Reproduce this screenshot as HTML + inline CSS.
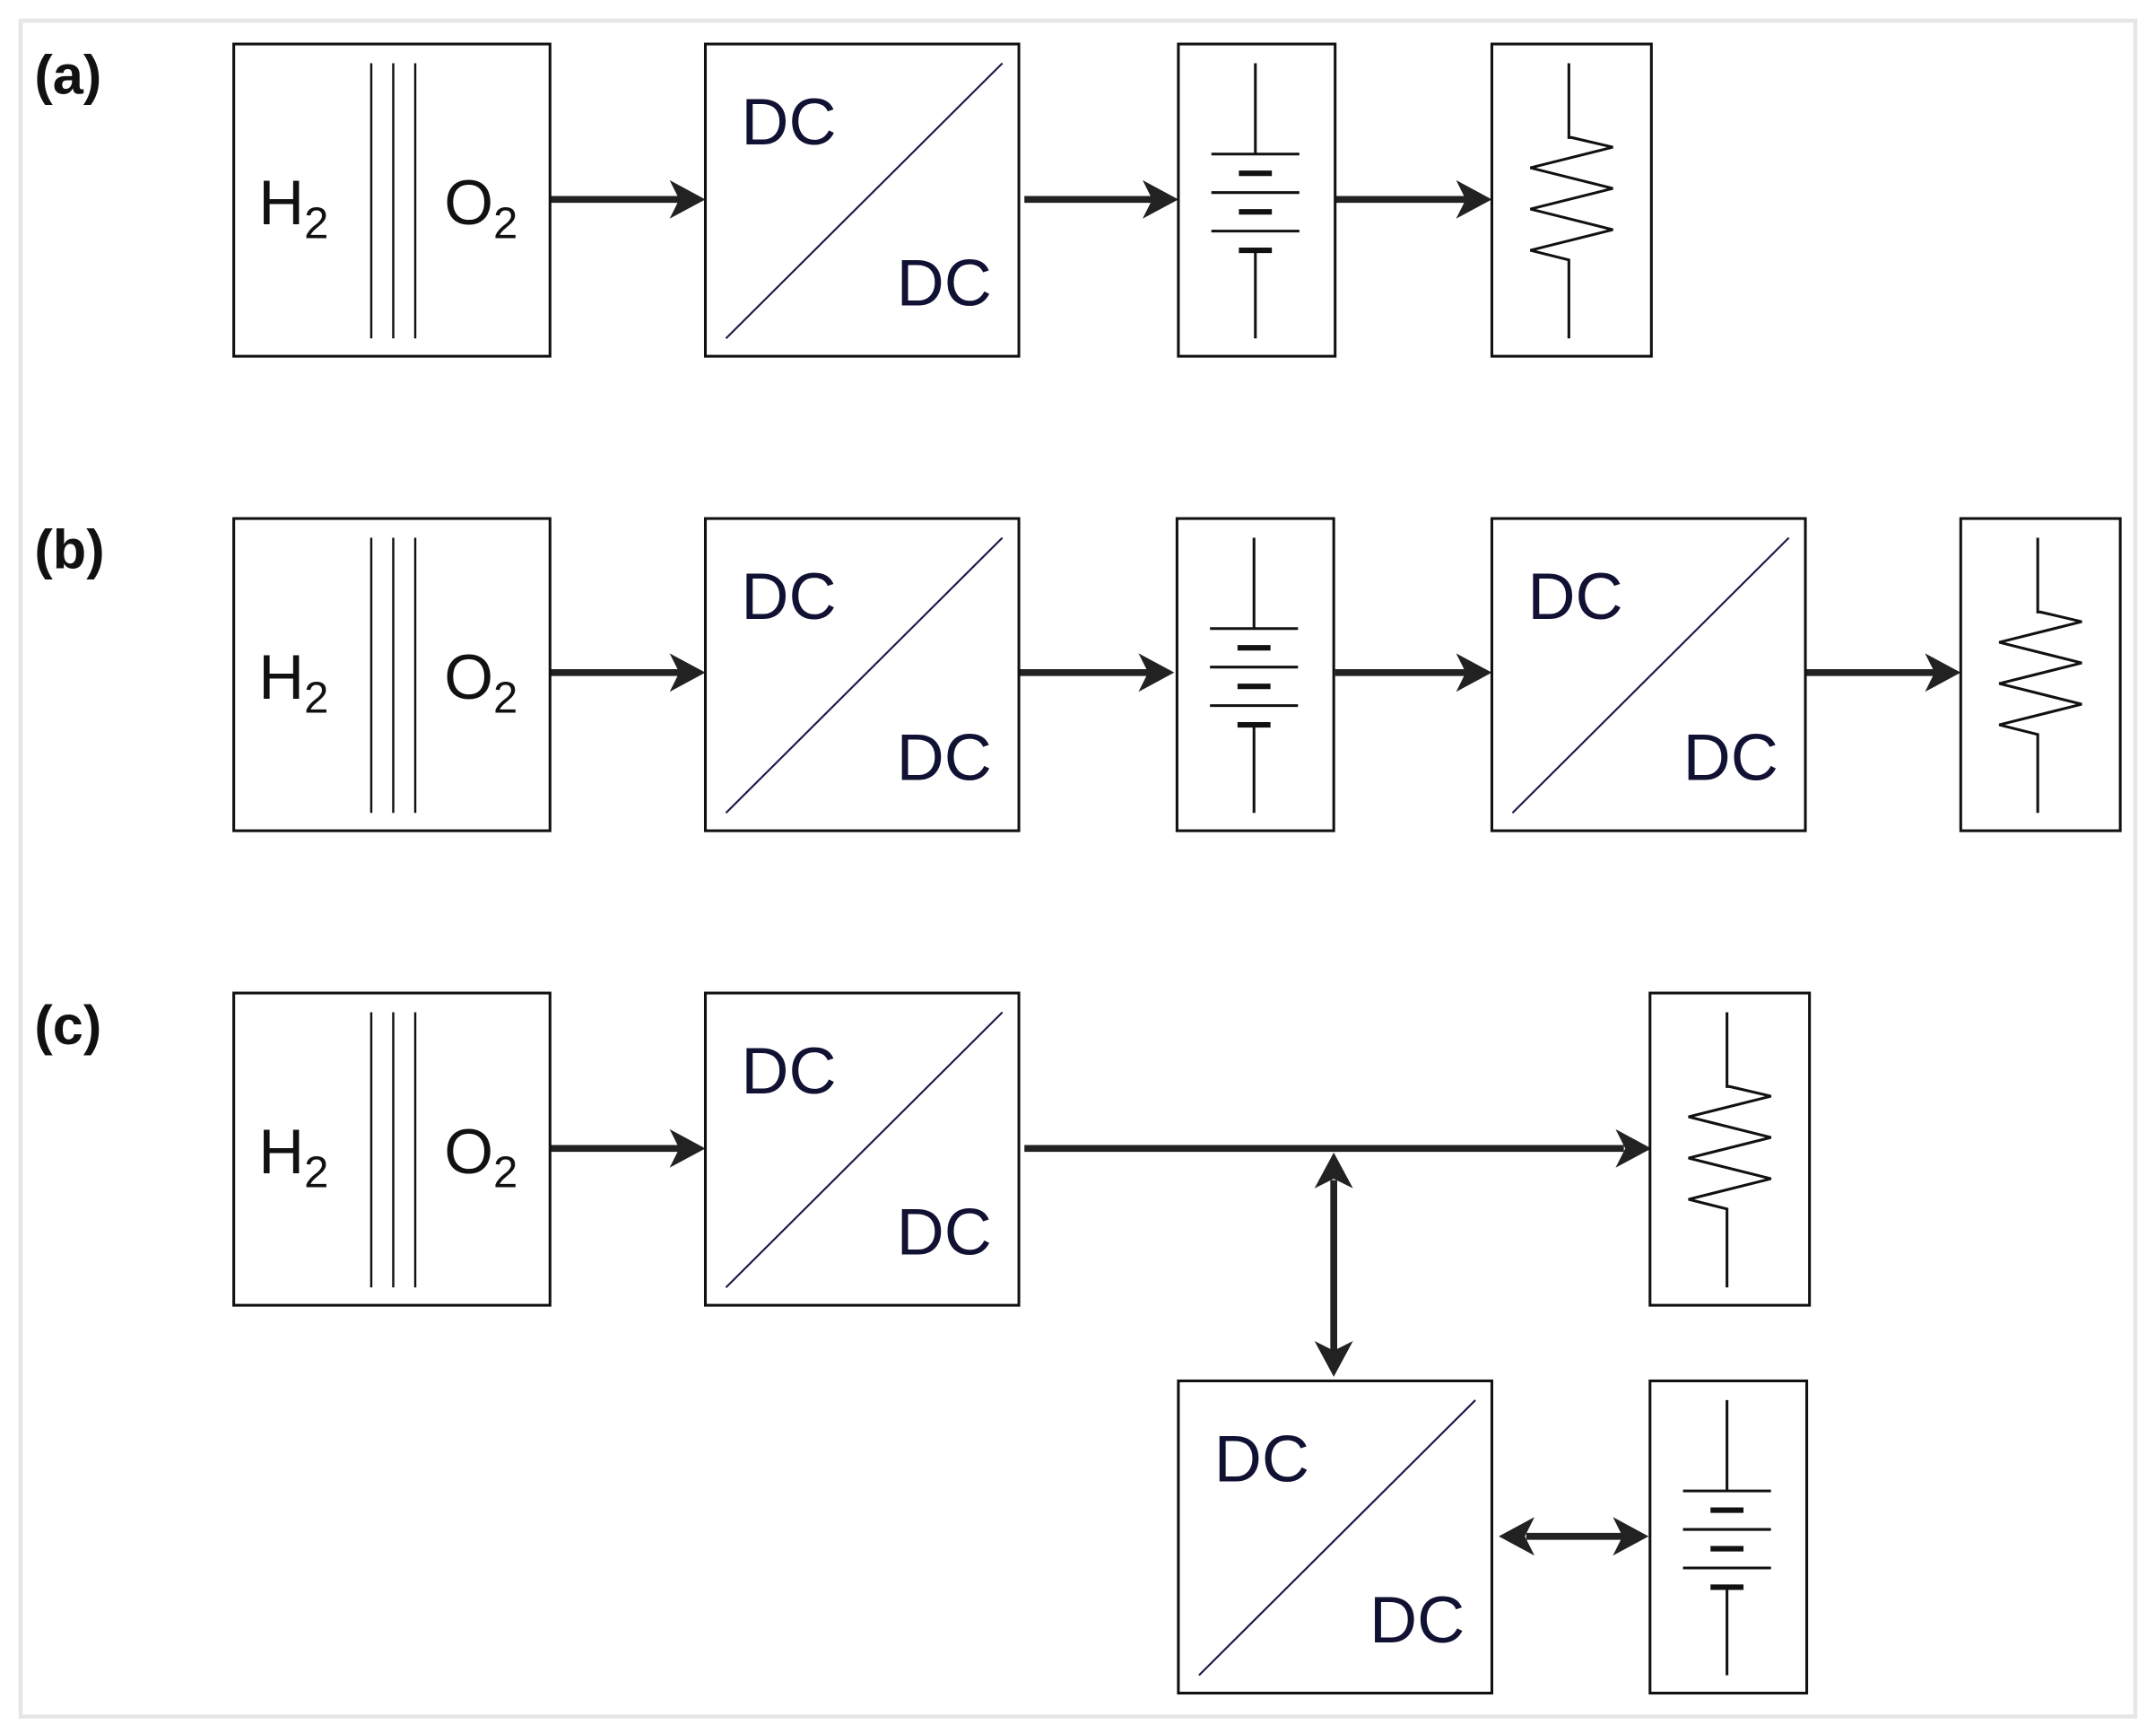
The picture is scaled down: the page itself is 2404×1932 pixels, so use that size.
<!DOCTYPE html>
<html><head><meta charset="utf-8"><style>
html,body{margin:0;padding:0;background:#fff;width:2404px;height:1932px;overflow:hidden}
svg{display:block}
text{font-family:"Liberation Sans",Arial,sans-serif}
</style></head><body>
<svg width="2404" height="1932" viewBox="0 0 1568 1260" preserveAspectRatio="none" xmlns="http://www.w3.org/2000/svg">
<defs>
<g id="fc">
 <rect x="0" y="0" width="230" height="227" fill="#fff" stroke="#111" stroke-width="2"/>
 <line x1="100" y1="14" x2="100" y2="214" stroke="#111" stroke-width="1.6"/>
 <line x1="116" y1="14" x2="116" y2="214" stroke="#111" stroke-width="1.6"/>
 <line x1="132" y1="14" x2="132" y2="214" stroke="#111" stroke-width="1.6"/>
 <text x="18" y="131" font-size="46" fill="#111">H<tspan font-size="32" dy="10">2</tspan></text>
 <text x="153" y="131" font-size="46" fill="#111">O<tspan font-size="32" dy="10">2</tspan></text>
</g>
<g id="dc">
 <rect x="0" y="0" width="228" height="227" fill="#fff" stroke="#111" stroke-width="2"/>
 <line x1="15" y1="214" x2="216" y2="14" stroke="#1a1a4a" stroke-width="1.4"/>
 <text x="26" y="73" font-size="48" fill="#111133">DC</text>
 <text x="139" y="190" font-size="48" fill="#111133">DC</text>
</g>
<g id="bat">
 <rect x="0" y="0" width="114" height="227" fill="#fff" stroke="#111" stroke-width="2"/>
 <g stroke="#111">
 <line x1="56" y1="14" x2="56" y2="80" stroke-width="2"/>
 <line x1="24" y1="80" x2="88" y2="80" stroke-width="2"/>
 <line x1="44" y1="94" x2="68" y2="94" stroke-width="4"/>
 <line x1="24" y1="108" x2="88" y2="108" stroke-width="2"/>
 <line x1="44" y1="122" x2="68" y2="122" stroke-width="4"/>
 <line x1="24" y1="136" x2="88" y2="136" stroke-width="2"/>
 <line x1="44" y1="150" x2="68" y2="150" stroke-width="4"/>
 <line x1="56" y1="150" x2="56" y2="214" stroke-width="2"/>
 </g>
</g>
<g id="res">
 <rect x="0" y="0" width="116" height="227" fill="#fff" stroke="#111" stroke-width="2"/>
 <polyline fill="none" stroke="#111" stroke-width="2" points="56,14 56,68 58,68 88,75 28,90 88,105 28,120 88,135 28,150 56,157 56,214"/>
</g>
<path id="ah" d="M0,0 L-26,-14 L-19,0 L-26,14 Z" fill="#222"/>
</defs>
<rect x="15" y="15" width="1538" height="1233" fill="#fff" stroke="#e6e6e6" stroke-width="3"/>
<g font-weight="bold" font-size="40" fill="#111">
<text x="25" y="68">(a)</text>
<text x="25" y="413">(b)</text>
<text x="25" y="759">(c)</text>
</g>
<g stroke="#222" stroke-width="5">
<line x1="400" y1="145" x2="496" y2="145"/><line x1="745" y1="145" x2="840" y2="145"/><line x1="971" y1="145" x2="1068" y2="145"/>
<line x1="400" y1="489" x2="496" y2="489"/><line x1="741" y1="489" x2="837" y2="489"/><line x1="971" y1="489" x2="1068" y2="489"/><line x1="1312" y1="489" x2="1409" y2="489"/>
<line x1="400" y1="835" x2="496" y2="835"/><line x1="745" y1="835" x2="1181" y2="835"/>
<line x1="970" y1="858" x2="970" y2="983"/><line x1="1110" y1="1117" x2="1181" y2="1117"/>
</g>
<use href="#ah" transform="translate(513,145)"/><use href="#ah" transform="translate(857,145)"/><use href="#ah" transform="translate(1085,145)"/>
<use href="#ah" transform="translate(513,489)"/><use href="#ah" transform="translate(854,489)"/><use href="#ah" transform="translate(1085,489)"/><use href="#ah" transform="translate(1426,489)"/>
<use href="#ah" transform="translate(513,835)"/><use href="#ah" transform="translate(1201,835)"/>
<use href="#ah" transform="translate(970,838) rotate(-90)"/><use href="#ah" transform="translate(970,1001) rotate(90)"/>
<use href="#ah" transform="translate(1090,1117) rotate(180)"/><use href="#ah" transform="translate(1199,1117)"/>
<use href="#fc" transform="translate(170,32)"/><use href="#dc" transform="translate(513,32)"/><use href="#bat" transform="translate(857,32)"/><use href="#res" transform="translate(1085,32)"/>
<use href="#fc" transform="translate(170,377)"/><use href="#dc" transform="translate(513,377)"/><use href="#bat" transform="translate(856,377)"/><use href="#dc" transform="translate(1085,377)"/><use href="#res" transform="translate(1426,377)"/>
<use href="#fc" transform="translate(170,722)"/><use href="#dc" transform="translate(513,722)"/><use href="#res" transform="translate(1200,722)"/>
<use href="#dc" transform="translate(857,1004)"/><use href="#bat" transform="translate(1200,1004)"/>
</svg>
</body></html>
